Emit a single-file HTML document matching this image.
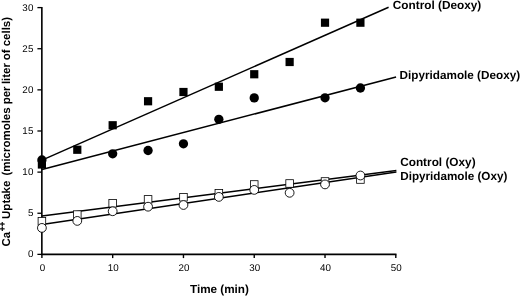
<!DOCTYPE html>
<html><head><meta charset="utf-8"><title>Ca uptake</title>
<style>html,body{margin:0;padding:0;background:#fff}svg{display:block}text{font-family:"Liberation Sans",Arial,sans-serif;fill:#000}.b{font-weight:bold}</style></head><body>
<svg text-rendering="geometricPrecision" width="520" height="296" viewBox="0 0 520 296">
<rect width="520" height="296" fill="#fff"/>
<g stroke="#000" stroke-width="1.6" fill="none">
<path d="M41.85 6.95 V254.4 H396.5"/>
<path d="M37.4 7.60 H41.8" stroke-width="1.3"/>
<path d="M37.4 48.73 H41.8" stroke-width="1.3"/>
<path d="M37.4 89.86 H41.8" stroke-width="1.3"/>
<path d="M37.4 130.99 H41.8" stroke-width="1.3"/>
<path d="M37.4 172.12 H41.8" stroke-width="1.3"/>
<path d="M37.4 213.25 H41.8" stroke-width="1.3"/>
<path d="M37.4 254.38 H41.8" stroke-width="1.3"/>
<path d="M41.90 254.4 V258.1" stroke-width="1.4"/>
<path d="M112.68 254.4 V258.1" stroke-width="1.4"/>
<path d="M183.46 254.4 V258.1" stroke-width="1.4"/>
<path d="M254.24 254.4 V258.1" stroke-width="1.4"/>
<path d="M325.02 254.4 V258.1" stroke-width="1.4"/>
<path d="M395.80 254.4 V258.1" stroke-width="1.4"/>
</g>
<text x="33.5" y="10.70" font-size="9.8" text-anchor="end" letter-spacing="0.15">30</text>
<text x="33.5" y="51.83" font-size="9.8" text-anchor="end" letter-spacing="0.15">25</text>
<text x="33.5" y="92.96" font-size="9.8" text-anchor="end" letter-spacing="0.15">20</text>
<text x="33.5" y="134.09" font-size="9.8" text-anchor="end" letter-spacing="0.15">15</text>
<text x="33.5" y="175.22" font-size="9.8" text-anchor="end" letter-spacing="0.15">10</text>
<text x="33.5" y="216.35" font-size="9.8" text-anchor="end" letter-spacing="0.15">5</text>
<text x="33.5" y="257.48" font-size="9.8" text-anchor="end" letter-spacing="0.15">0</text>
<text x="42.40" y="271.2" font-size="9.8" text-anchor="middle">0</text>
<text x="113.18" y="271.2" font-size="9.8" text-anchor="middle">10</text>
<text x="183.96" y="271.2" font-size="9.8" text-anchor="middle">20</text>
<text x="254.74" y="271.2" font-size="9.8" text-anchor="middle">30</text>
<text x="325.52" y="271.2" font-size="9.8" text-anchor="middle">40</text>
<text x="396.30" y="271.2" font-size="9.8" text-anchor="middle">50</text>
<rect x="37.80" y="160.40" width="8.2" height="8.2" fill="#000"/>
<rect x="73.19" y="145.65" width="8.2" height="8.2" fill="#000"/>
<rect x="108.58" y="121.15" width="8.2" height="8.2" fill="#000"/>
<rect x="143.97" y="97.15" width="8.2" height="8.2" fill="#000"/>
<rect x="179.36" y="87.90" width="8.2" height="8.2" fill="#000"/>
<rect x="214.75" y="82.65" width="8.2" height="8.2" fill="#000"/>
<rect x="250.14" y="70.15" width="8.2" height="8.2" fill="#000"/>
<rect x="285.53" y="57.90" width="8.2" height="8.2" fill="#000"/>
<rect x="320.92" y="18.60" width="8.2" height="8.2" fill="#000"/>
<rect x="356.31" y="18.60" width="8.2" height="8.2" fill="#000"/>
<circle cx="41.90" cy="160" r="4.65" fill="#000"/>
<circle cx="112.68" cy="153.8" r="4.65" fill="#000"/>
<circle cx="148.07" cy="150.5" r="4.65" fill="#000"/>
<circle cx="183.46" cy="143.8" r="4.65" fill="#000"/>
<circle cx="218.85" cy="119.3" r="4.65" fill="#000"/>
<circle cx="254.24" cy="97.9" r="4.65" fill="#000"/>
<circle cx="325.02" cy="97.8" r="4.65" fill="#000"/>
<circle cx="360.41" cy="88" r="4.65" fill="#000"/>
<path d="M42 160.15 L388.6 7.3" stroke="#000" stroke-width="1.5" fill="none"/>
<path d="M42 169.6 L396.1 76.9" stroke="#000" stroke-width="1.5" fill="none"/>
<path d="M42 215.9 L396.4 170.5" stroke="#000" stroke-width="1.5" fill="none"/>
<path d="M42 224.5 L396.4 171.9" stroke="#000" stroke-width="1.5" fill="none"/>
<rect x="38.10" y="217.40" width="7.6" height="7.6" fill="#fff" stroke="#000" stroke-width="0.8"/>
<rect x="73.49" y="210.80" width="7.6" height="7.6" fill="#fff" stroke="#000" stroke-width="0.8"/>
<rect x="108.88" y="199.45" width="7.6" height="7.6" fill="#fff" stroke="#000" stroke-width="0.8"/>
<rect x="144.27" y="195.60" width="7.6" height="7.6" fill="#fff" stroke="#000" stroke-width="0.8"/>
<rect x="179.66" y="193.45" width="7.6" height="7.6" fill="#fff" stroke="#000" stroke-width="0.8"/>
<rect x="215.05" y="189.45" width="7.6" height="7.6" fill="#fff" stroke="#000" stroke-width="0.8"/>
<rect x="250.44" y="180.70" width="7.6" height="7.6" fill="#fff" stroke="#000" stroke-width="0.8"/>
<rect x="285.83" y="179.70" width="7.6" height="7.6" fill="#fff" stroke="#000" stroke-width="0.8"/>
<rect x="321.22" y="177.70" width="7.6" height="7.6" fill="#fff" stroke="#000" stroke-width="0.8"/>
<rect x="356.61" y="175.70" width="7.6" height="7.6" fill="#fff" stroke="#000" stroke-width="0.8"/>
<circle cx="41.90" cy="227.9" r="4.4" fill="#fff" stroke="#000" stroke-width="0.9"/>
<circle cx="77.29" cy="220.9" r="4.4" fill="#fff" stroke="#000" stroke-width="0.9"/>
<circle cx="112.68" cy="211.25" r="4.4" fill="#fff" stroke="#000" stroke-width="0.9"/>
<circle cx="148.07" cy="206.7" r="4.4" fill="#fff" stroke="#000" stroke-width="0.9"/>
<circle cx="183.46" cy="205" r="4.4" fill="#fff" stroke="#000" stroke-width="0.9"/>
<circle cx="218.85" cy="196.9" r="4.4" fill="#fff" stroke="#000" stroke-width="0.9"/>
<circle cx="254.24" cy="189.9" r="4.4" fill="#fff" stroke="#000" stroke-width="0.9"/>
<circle cx="289.63" cy="192.8" r="4.4" fill="#fff" stroke="#000" stroke-width="0.9"/>
<circle cx="325.02" cy="184.4" r="4.4" fill="#fff" stroke="#000" stroke-width="0.9"/>
<circle cx="360.41" cy="175.5" r="4.4" fill="#fff" stroke="#000" stroke-width="0.9"/>
<text class="b" x="392.8" y="8.9" font-size="11.8">Control (Deoxy)</text>
<text class="b" x="399.6" y="78.9" font-size="11.72">Dipyridamole (Deoxy)</text>
<text class="b" x="400.2" y="166.3" font-size="11.8">Control (Oxy)</text>
<text class="b" x="400.2" y="180.2" font-size="11.7">Dipyridamole (Oxy)</text>
<text class="b" x="190" y="293.3" font-size="11.7">Time (min)</text>
<text class="b" transform="translate(10.4 246.6) rotate(-90)" font-size="11.47">Ca<tspan font-size="8" dx="0.7" dy="-5.8" letter-spacing="0.16" stroke="#000" stroke-width="0.35">++</tspan><tspan x="27.7" dy="5.8">Uptake</tspan> <tspan x="71">(micromoles</tspan> <tspan x="142.3">per</tspan> <tspan x="162.5">liter</tspan> <tspan x="186.3">of</tspan> <tspan x="200.3">cells)</tspan></text>
</svg></body></html>
